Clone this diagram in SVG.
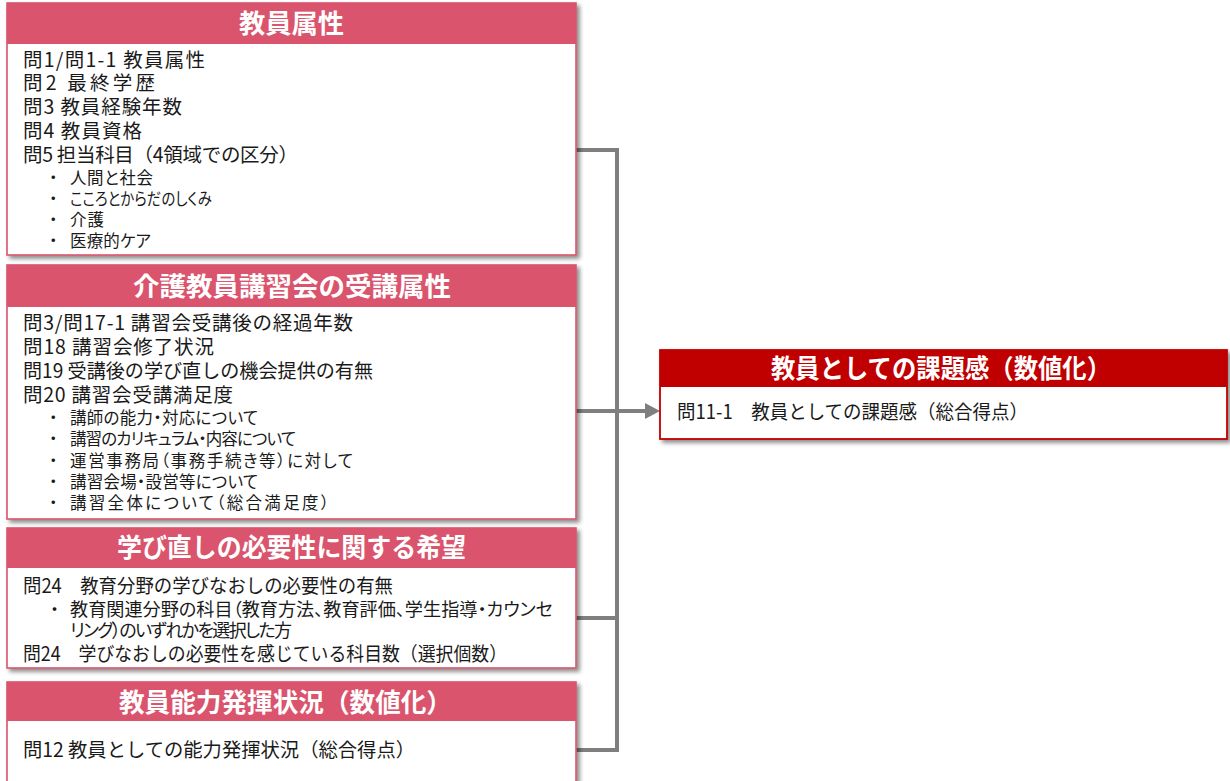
<svg xmlns="http://www.w3.org/2000/svg" width="1230" height="781" viewBox="0 0 1230 781">
<defs>
<filter id="sh" x="-5%" y="-5%" width="115%" height="120%">
<feDropShadow dx="3" dy="3" stdDeviation="2.2" flood-color="#000" flood-opacity="0.45"/>
</filter>
</defs>
<style>
text{font-family:"Noto Sans CJK JP","Noto Sans",sans-serif;fill:#1a1a1a}
.box{fill:#fff;stroke:#d9546c;stroke-width:1.6}
.hd{fill:#d9546c}
.box2{fill:#fff;stroke:#c00000;stroke-width:1.8}
.hd2{fill:#c00000}
.ht{font-size:26px;font-weight:bold;fill:#fff}
.t{font-size:19.5px}
.s{font-size:16.5px;font-feature-settings:"palt"}
.m{font-size:18px;font-feature-settings:"palt"}
.con{fill:none;stroke:#7f7f7f;stroke-width:4}
</style>
<rect width="1230" height="781" fill="#fff"/>
<g id="connectors">
<path class="con" d="M576 150 H617 V750 H576"/>
<path class="con" d="M576 618 H617"/>
<path class="con" d="M576 411 H646"/>
<polygon points="645,403 660,411 645,419" fill="#7f7f7f"/>
</g>
<g id="node-kyoin-zokusei">
<rect class="box" x="7" y="3" width="569" height="252" filter="url(#sh)"/>
<rect class="hd" x="7" y="3" width="569" height="41"/>
<text class="ht" x="239" y="33" textLength="105" lengthAdjust="spacingAndGlyphs">教員属性</text>
<text class="t" x="23" y="67" textLength="182" lengthAdjust="spacing">問1/問1-1 教員属性</text>
<text class="t" x="23" y="90" textLength="132" lengthAdjust="spacing">問2 最終学歴</text>
<text class="t" x="23" y="114" textLength="159" lengthAdjust="spacing">問3 教員経験年数</text>
<text class="t" x="23" y="138" textLength="119" lengthAdjust="spacing">問4 教員資格</text>
<text class="t" x="23" y="162" textLength="275" lengthAdjust="spacing">問5 担当科目（4領域での区分）</text>
<text class="s" x="49" y="184">・</text><text class="s" x="70" y="184" textLength="83" lengthAdjust="spacing">人間と社会</text>
<text class="s" x="49" y="205">・</text><text class="s" x="70" y="205" textLength="142" lengthAdjust="spacingAndGlyphs">こころとからだのしくみ</text>
<text class="s" x="49" y="226">・</text><text class="s" x="70" y="226" textLength="34" lengthAdjust="spacing">介護</text>
<text class="s" x="49" y="247">・</text><text class="s" x="70" y="247" textLength="81" lengthAdjust="spacing">医療的ケア</text>
</g>
<g id="node-jukou-zokusei">
<rect class="box" x="7" y="265" width="569" height="254" filter="url(#sh)"/>
<rect class="hd" x="7" y="265" width="569" height="42"/>
<text class="ht" x="133" y="296" textLength="318" lengthAdjust="spacingAndGlyphs">介護教員講習会の受講属性</text>
<text class="t" x="23" y="330" textLength="330" lengthAdjust="spacing">問3/問17-1 講習会受講後の経過年数</text>
<text class="t" x="23" y="354" textLength="191" lengthAdjust="spacing">問18 講習会修了状況</text>
<text class="t" x="23" y="378" textLength="350" lengthAdjust="spacingAndGlyphs">問19 受講後の学び直しの機会提供の有無</text>
<text class="t" x="23" y="402" textLength="210" lengthAdjust="spacing">問20 講習会受講満足度</text>
<text class="s" x="49" y="424">・</text><text class="s" x="70" y="424" textLength="188" lengthAdjust="spacing">講師の能力・対応について</text>
<text class="s" x="49" y="445">・</text><text class="s" x="70" y="445" textLength="226" lengthAdjust="spacing">講習のカリキュラム・内容について</text>
<text class="s" x="49" y="467">・</text><text class="s" x="70" y="467" textLength="283" lengthAdjust="spacing">運営事務局（事務手続き等）に対して</text>
<text class="s" x="49" y="488">・</text><text class="s" x="70" y="488" textLength="188" lengthAdjust="spacing">講習会場・設営等について</text>
<text class="s" x="49" y="509">・</text><text class="s" x="70" y="509" textLength="259" lengthAdjust="spacing">講習全体について（総合満足度）</text>
</g>
<g id="node-manabinaoshi">
<rect class="box" x="7" y="528" width="569" height="140" filter="url(#sh)"/>
<rect class="hd" x="7" y="528" width="569" height="40"/>
<text class="ht" x="117" y="557" textLength="349" lengthAdjust="spacingAndGlyphs">学び直しの必要性に関する希望</text>
<text class="t" x="23" y="593" textLength="370" lengthAdjust="spacingAndGlyphs">問24　教育分野の学びなおしの必要性の有無</text>
<text class="m" x="50" y="616">・</text><text class="m" x="70" y="616" textLength="483" lengthAdjust="spacingAndGlyphs">教育関連分野の科目（教育方法、教育評価、学生指導・カウンセ</text>
<text class="m" x="70" y="637" textLength="222" lengthAdjust="spacing">リング）のいずれかを選択した方</text>
<text class="t" x="23" y="661" textLength="484" lengthAdjust="spacingAndGlyphs">問24　学びなおしの必要性を感じている科目数（選択個数）</text>
</g>
<g id="node-noryoku">
<rect class="box" x="7" y="682" width="569" height="110" filter="url(#sh)"/>
<rect class="hd" x="7" y="682" width="569" height="39"/>
<text class="ht" x="119" y="712" textLength="333" lengthAdjust="spacingAndGlyphs">教員能力発揮状況（数値化）</text>
<text class="t" x="23" y="757" textLength="392" lengthAdjust="spacingAndGlyphs">問12 教員としての能力発揮状況（総合得点）</text>
</g>
<g id="node-kadaikan">
<rect class="box2" x="660" y="350" width="567" height="89" filter="url(#sh)"/>
<rect class="hd2" x="660" y="350" width="567" height="37"/>
<text class="ht" x="771" y="378" textLength="340" lengthAdjust="spacingAndGlyphs">教員としての課題感（数値化）</text>
<text class="t" x="677" y="419" textLength="351" lengthAdjust="spacingAndGlyphs">問11-1　教員としての課題感（総合得点）</text>
</g>
</svg>
